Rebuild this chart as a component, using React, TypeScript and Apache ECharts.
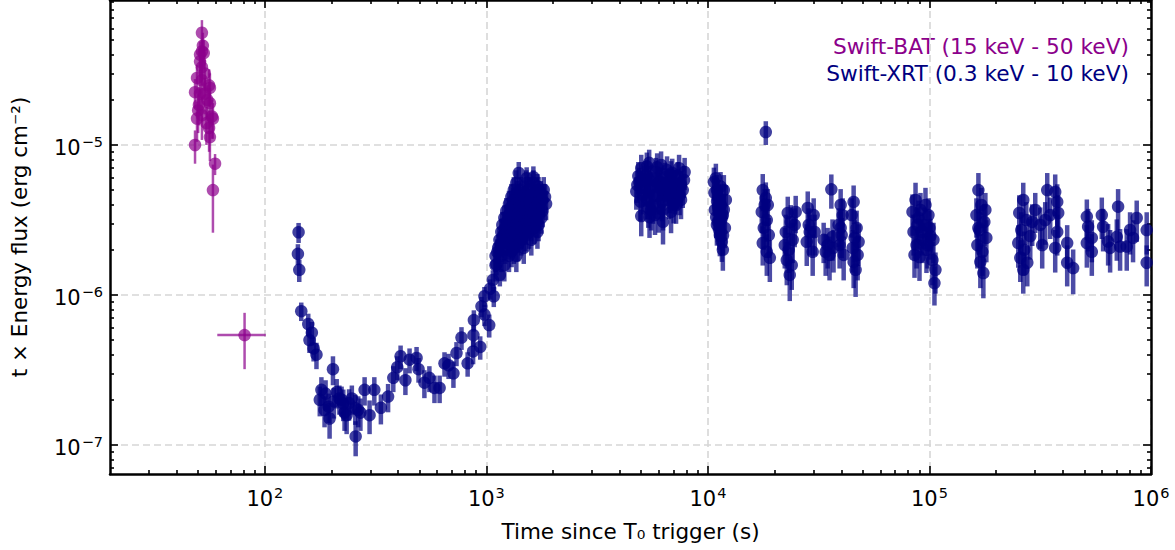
import React, { useEffect, useRef } from "react";
import * as echarts from "echarts";

// ---------- axis ticks ----------
const xMajorTicks = [100, 1000, 10000, 100000, 1000000];
const yMajorTicks = [1e-7, 1e-6, 1e-5];
const minorMultipliers = [2, 3, 4, 5, 6, 7, 8, 9];
const xDecades = [10, 100, 1000, 10000, 100000];
const yDecades = [1e-8, 1e-7, 1e-6, 1e-5];
const xMin = 20;
const xMax = 1000000;
const yMin = 6.4e-8;
const yMax = 9.26e-5;

// ---------- Swift-BAT: [time (s), t*flux, flux error, time error] ----------
const batData: number[][] = [
  [52, 5.6e-5, 1.2e-5, 0],
  [52.5, 4.6e-5, 1.0e-5, 0],
  [52, 4.2e-5, 0.9e-5, 0],
  [53, 4.1e-5, 0.9e-5, 0],
  [51, 4.0e-5, 0.9e-5, 0],
  [51, 3.6e-5, 0.8e-5, 0],
  [52, 3.3e-5, 0.8e-5, 0],
  [53.5, 3.0e-5, 0.7e-5, 0],
  [49.4, 2.8e-5, 0.6e-5, 0],
  [52, 2.7e-5, 0.7e-5, 0],
  [56, 2.5e-5, 0.7e-5, 0],
  [56.5, 2.4e-5, 0.6e-5, 0],
  [48.4, 2.25e-5, 0.5e-5, 0],
  [51, 2.2e-5, 0.6e-5, 0],
  [53.5, 2.2e-5, 0.6e-5, 0],
  [55, 2.0e-5, 0.5e-5, 0],
  [56.5, 1.9e-5, 0.5e-5, 0],
  [50.4, 1.85e-5, 0.5e-5, 0],
  [50, 1.7e-5, 0.5e-5, 0],
  [52, 1.58e-5, 0.5e-5, 0],
  [57.7, 1.55e-5, 0.45e-5, 0],
  [49.4, 1.5e-5, 0.45e-5, 0],
  [58.3, 1.5e-5, 0.4e-5, 0],
  [54.5, 1.4e-5, 0.4e-5, 0],
  [56, 1.3e-5, 0.4e-5, 0],
  [56.5, 1.13e-5, 0.35e-5, 0],
  [48.4, 1.0e-5, 0.25e-5, 0],
  [59.6, 7.5e-6, 1.2e-6, 0],
  [58.3, 5.0e-6, 2.4e-6, 0],
  [81, 5.4e-7, 2.2e-7, 20],
];

// ---------- Swift-XRT: [time (s), t*flux, flux error] ----------
const xrtSteep: number[][] = [
  [142, 2.62e-6, 0.4e-6],
  [141, 1.88e-6, 0.3e-6],
  [143, 1.47e-6, 0.25e-6],
  [146, 7.8e-7, 1.1e-7],
  [157, 6.4e-7, 1.1e-7],
  [163, 5.6e-7, 1.0e-7],
  [159, 5.0e-7, 0.9e-7],
  [166, 4.4e-7, 0.8e-7],
  [171, 4.0e-7, 0.8e-7],
  [203, 3.2e-7, 0.7e-7],
];

const xrtTrough: number[][] = [
  [180, 2.33e-7, 0.5e-7],
  [177, 2.0e-7, 0.45e-7],
  [186, 1.71e-7, 0.4e-7],
  [188, 2.2e-7, 0.5e-7],
  [194, 1.8e-7, 0.4e-7],
  [196, 1.5e-7, 0.4e-7],
  [205, 1.95e-7, 0.45e-7],
  [211, 2.25e-7, 0.5e-7],
  [217, 2.04e-7, 0.45e-7],
  [222, 2.0e-7, 0.45e-7],
  [226, 1.89e-7, 0.45e-7],
  [229, 1.64e-7, 0.4e-7],
  [234, 1.58e-7, 0.4e-7],
  [240, 1.9e-7, 0.45e-7],
  [247, 2.04e-7, 0.45e-7],
  [256, 1.76e-7, 0.4e-7],
  [257, 1.14e-7, 0.3e-7],
  [264, 1.71e-7, 0.4e-7],
  [270, 1.64e-7, 0.4e-7],
  [282, 2.33e-7, 0.5e-7],
  [297, 1.58e-7, 0.4e-7],
  [312, 2.33e-7, 0.5e-7],
  [334, 1.77e-7, 0.4e-7],
  [360, 2.1e-7, 0.45e-7],
  [380, 2.8e-7, 0.55e-7],
  [396, 3.3e-7, 0.6e-7],
  [410, 3.9e-7, 0.7e-7],
  [431, 2.7e-7, 0.55e-7],
  [450, 3.7e-7, 0.7e-7],
  [484, 3.8e-7, 0.7e-7],
  [494, 3.2e-7, 0.6e-7],
  [525, 2.6e-7, 0.55e-7],
  [553, 2.8e-7, 0.55e-7],
  [583, 2.4e-7, 0.5e-7],
  [615, 2.4e-7, 0.5e-7],
  [647, 3.5e-7, 0.65e-7],
  [675, 3.4e-7, 0.65e-7],
  [710, 3.0e-7, 0.6e-7],
  [733, 4.1e-7, 0.75e-7],
  [772, 5.2e-7, 0.9e-7],
  [823, 3.5e-7, 0.65e-7],
  [871, 4.2e-7, 0.75e-7],
  [874, 5.4e-7, 0.9e-7],
  [878, 6.8e-7, 1.1e-7],
  [938, 4.5e-7, 0.8e-7],
  [950, 8.4e-7, 1.3e-7],
  [980, 7.4e-7, 1.2e-7],
  [980, 9.8e-7, 1.5e-7],
  [1030, 6.3e-7, 1.1e-7],
  [1040, 1.1e-6, 0.17e-6],
  [1080, 9.8e-7, 1.5e-7],
  [1070, 1.26e-6, 0.2e-6],
  [1110, 1.6e-6, 0.25e-6],
  [1150, 1.36e-6, 0.22e-6],
];

const xrtRise: number[][] = [
  [1400, 6.5e-6, 1.2e-6], [1630, 6.1e-6, 1.1e-6], [1520, 6.0e-6, 1.1e-6],
  [1365, 5.58e-6, 1.2e-6], [1514, 5.58e-6, 1.2e-6], [1630, 5.58e-6, 1.2e-6], [1700, 5.3e-6, 1.1e-6],
  [1330, 5.01e-6, 1.1e-6], [1437, 5.01e-6, 1.1e-6], [1560, 5.01e-6, 1.1e-6], [1720, 5.01e-6, 1.1e-6], [1815, 5.01e-6, 1.1e-6],
  [1380, 4.75e-6, 1.0e-6], [1480, 4.8e-6, 1.0e-6], [1610, 4.7e-6, 1.0e-6], [1760, 4.75e-6, 1.0e-6],
  [1296, 4.5e-6, 1.0e-6], [1400, 4.5e-6, 1.0e-6], [1530, 4.5e-6, 1.0e-6], [1680, 4.5e-6, 1.0e-6], [1840, 4.5e-6, 1.0e-6],
  [1320, 4.25e-6, 0.95e-6], [1440, 4.3e-6, 0.95e-6], [1560, 4.2e-6, 0.95e-6], [1790, 4.3e-6, 0.95e-6],
  [1265, 4.05e-6, 0.9e-6], [1365, 4.05e-6, 0.9e-6], [1475, 4.05e-6, 0.9e-6], [1595, 4.05e-6, 0.9e-6], [1720, 4.05e-6, 0.9e-6], [1860, 4.05e-6, 0.9e-6],
  [1290, 3.85e-6, 0.85e-6], [1410, 3.8e-6, 0.85e-6], [1520, 3.85e-6, 0.85e-6], [1650, 3.8e-6, 0.85e-6],
  [1230, 3.63e-6, 0.8e-6], [1330, 3.63e-6, 0.8e-6], [1420, 3.63e-6, 0.8e-6], [1550, 3.63e-6, 0.8e-6], [1660, 3.63e-6, 0.8e-6], [1790, 3.63e-6, 0.8e-6],
  [1270, 3.45e-6, 0.75e-6], [1370, 3.4e-6, 0.75e-6], [1460, 3.45e-6, 0.75e-6], [1600, 3.4e-6, 0.75e-6], [1730, 3.45e-6, 0.75e-6],
  [1205, 3.26e-6, 0.7e-6], [1296, 3.26e-6, 0.7e-6], [1390, 3.26e-6, 0.7e-6], [1500, 3.26e-6, 0.7e-6], [1630, 3.26e-6, 0.7e-6], [1770, 3.26e-6, 0.7e-6],
  [1240, 3.1e-6, 0.68e-6], [1330, 3.05e-6, 0.68e-6], [1430, 3.1e-6, 0.68e-6], [1540, 3.05e-6, 0.68e-6], [1680, 3.1e-6, 0.68e-6],
  [1180, 2.93e-6, 0.65e-6], [1265, 2.93e-6, 0.65e-6], [1365, 2.93e-6, 0.65e-6], [1475, 2.93e-6, 0.65e-6], [1595, 2.93e-6, 0.65e-6], [1720, 2.93e-6, 0.65e-6],
  [1210, 2.78e-6, 0.6e-6], [1300, 2.75e-6, 0.6e-6], [1400, 2.8e-6, 0.6e-6], [1510, 2.75e-6, 0.6e-6], [1640, 2.78e-6, 0.6e-6],
  [1168, 2.63e-6, 0.6e-6], [1245, 2.63e-6, 0.6e-6], [1340, 2.63e-6, 0.6e-6], [1437, 2.63e-6, 0.6e-6], [1560, 2.63e-6, 0.6e-6], [1700, 2.63e-6, 0.6e-6],
  [1190, 2.47e-6, 0.55e-6], [1280, 2.5e-6, 0.55e-6], [1380, 2.45e-6, 0.55e-6], [1500, 2.5e-6, 0.55e-6],
  [1145, 2.33e-6, 0.5e-6], [1230, 2.33e-6, 0.5e-6], [1330, 2.33e-6, 0.5e-6], [1437, 2.33e-6, 0.5e-6], [1595, 2.33e-6, 0.5e-6],
  [1160, 2.18e-6, 0.48e-6], [1260, 2.2e-6, 0.48e-6], [1390, 2.15e-6, 0.48e-6],
  [1130, 2.06e-6, 0.45e-6], [1215, 2.06e-6, 0.45e-6], [1330, 2.06e-6, 0.45e-6], [1475, 2.06e-6, 0.45e-6],
  [1120, 1.93e-6, 0.42e-6], [1300, 1.95e-6, 0.42e-6],
  [1100, 1.82e-6, 0.4e-6], [1168, 1.82e-6, 0.4e-6], [1265, 1.82e-6, 0.4e-6], [1365, 1.82e-6, 0.4e-6],
  [1100, 1.58e-6, 0.35e-6], [1205, 1.58e-6, 0.35e-6],
];

const xrtPlateau: number[][] = [
  [4800, 5.41e-6, 1.3e-6], [4900, 5.66e-6, 1.4e-6], [5000, 7.0e-6, 1.6e-6], [5000, 3.36e-6, 0.9e-6],
  [5100, 4.64e-6, 1.2e-6], [5200, 5.17e-6, 1.3e-6], [5260, 6.3e-6, 1.5e-6], [5320, 4.3e-6, 1.1e-6],
  [5430, 7.6e-6, 1.7e-6], [5430, 5.84e-6, 1.4e-6], [5540, 5.17e-6, 1.3e-6], [5540, 3.69e-6, 1.0e-6],
  [5650, 3.98e-6, 1.0e-6], [5770, 3.41e-6, 0.9e-6], [5835, 6.6e-6, 1.6e-6], [5950, 5.58e-6, 1.4e-6],
  [6020, 4.64e-6, 1.2e-6], [6146, 7.36e-6, 1.7e-6], [6146, 5.66e-6, 1.4e-6], [6270, 3.69e-6, 1.0e-6],
  [6270, 3.07e-6, 0.9e-6], [6340, 4.86e-6, 1.2e-6], [6470, 5.58e-6, 1.4e-6], [6540, 6.8e-6, 1.6e-6],
  [6680, 4.3e-6, 1.1e-6], [6817, 6.3e-6, 1.5e-6], [6817, 3.58e-6, 1.0e-6], [6960, 5.0e-6, 1.2e-6],
  [7100, 4.64e-6, 1.2e-6], [7180, 3.98e-6, 1.0e-6], [7410, 7.0e-6, 1.6e-6], [7560, 5.41e-6, 1.3e-6],
  [7560, 4.3e-6, 1.1e-6], [7800, 5.84e-6, 1.4e-6],
  [4750, 4.9e-6, 1.2e-6], [4850, 6.2e-6, 1.5e-6], [4950, 4.2e-6, 1.1e-6], [5150, 5.9e-6, 1.4e-6],
  [5300, 7.2e-6, 1.7e-6], [5380, 3.8e-6, 1.0e-6], [5600, 6.0e-6, 1.4e-6], [5700, 4.6e-6, 1.2e-6],
  [5900, 7.1e-6, 1.7e-6], [6050, 5.2e-6, 1.3e-6], [6200, 4.2e-6, 1.1e-6], [6400, 6.1e-6, 1.5e-6],
  [6600, 5.2e-6, 1.3e-6], [6750, 4.7e-6, 1.2e-6], [6900, 6.5e-6, 1.6e-6], [7050, 5.5e-6, 1.3e-6],
  [7250, 4.9e-6, 1.2e-6], [7300, 6.2e-6, 1.5e-6], [7450, 4.6e-6, 1.2e-6], [7700, 5.0e-6, 1.2e-6],
  [7850, 6.6e-6, 1.6e-6], [6000, 3.5e-6, 0.9e-6], [5450, 3.3e-6, 0.9e-6], [7000, 4.0e-6, 1.0e-6],
];

const xrtDay: number[][] = [
  [10860, 6.0e-6, 1.5e-6], [10640, 5.66e-6, 1.4e-6], [10980, 5.0e-6, 1.3e-6], [11210, 4.43e-6, 1.1e-6],
  [11440, 3.98e-6, 1.0e-6], [10750, 3.69e-6, 1.0e-6], [11680, 3.41e-6, 0.9e-6], [11090, 3.07e-6, 0.8e-6],
  [11930, 2.8e-6, 0.75e-6], [11320, 2.51e-6, 0.7e-6], [11560, 2.26e-6, 0.6e-6], [11680, 2.0e-6, 0.55e-6],
  [12050, 4.3e-6, 1.1e-6], [11210, 3.58e-6, 0.95e-6], [10980, 2.93e-6, 0.8e-6], [11800, 5.0e-6, 1.3e-6],
  [10700, 4.8e-6, 1.2e-6], [11000, 4.2e-6, 1.1e-6], [11400, 5.3e-6, 1.3e-6], [11100, 3.9e-6, 1.0e-6],
  [11500, 3.2e-6, 0.85e-6], [11250, 2.7e-6, 0.7e-6], [11700, 2.5e-6, 0.65e-6], [10900, 3.3e-6, 0.9e-6],
  [11800, 3.7e-6, 1.0e-6],
  [18250, 1.22e-5, 0.22e-5],
  [17680, 5.0e-6, 1.4e-6], [18250, 4.43e-6, 1.2e-6], [18630, 3.98e-6, 1.1e-6], [17500, 3.58e-6, 1.0e-6],
  [18440, 3.16e-6, 0.9e-6], [17870, 2.8e-6, 0.8e-6], [18830, 2.51e-6, 0.75e-6], [17680, 2.22e-6, 0.65e-6],
  [18440, 1.94e-6, 0.6e-6], [19030, 1.77e-6, 0.55e-6], [18050, 3.98e-6, 1.1e-6],
  [22930, 3.52e-6, 1.0e-6], [23650, 3.07e-6, 0.9e-6], [22460, 2.63e-6, 0.8e-6], [24140, 2.33e-6, 0.7e-6],
  [23160, 2.0e-6, 0.6e-6], [24640, 2.93e-6, 0.85e-6], [22700, 1.71e-6, 0.55e-6], [23900, 1.58e-6, 0.5e-6],
  [23410, 1.36e-6, 0.45e-6], [24900, 3.58e-6, 1.0e-6], [22230, 2.15e-6, 0.65e-6],
  [28220, 3.8e-6, 1.1e-6], [30020, 3.41e-6, 1.0e-6], [28520, 2.93e-6, 0.85e-6], [30330, 2.63e-6, 0.8e-6],
  [27930, 2.26e-6, 0.7e-6], [29710, 1.94e-6, 0.6e-6], [28810, 2.63e-6, 0.8e-6],
  [33300, 2.33e-6, 0.7e-6], [34700, 2.15e-6, 0.65e-6], [36500, 2.44e-6, 0.75e-6], [34000, 1.94e-6, 0.6e-6],
  [35400, 1.85e-6, 0.6e-6], [36900, 2.06e-6, 0.65e-6], [36060, 5.06e-6, 1.3e-6],
  [39730, 3.98e-6, 1.1e-6], [40570, 3.41e-6, 1.0e-6], [38900, 2.93e-6, 0.85e-6], [40150, 2.51e-6, 0.75e-6],
  [39300, 2.15e-6, 0.65e-6], [41000, 1.85e-6, 0.6e-6], [39730, 2.8e-6, 0.8e-6],
  [45470, 4.17e-6, 1.2e-6], [44540, 3.41e-6, 1.0e-6], [46910, 2.8e-6, 0.85e-6], [45950, 2.4e-6, 0.75e-6],
  [45000, 2.06e-6, 0.65e-6], [47400, 1.85e-6, 0.6e-6], [45470, 1.66e-6, 0.55e-6], [46420, 1.47e-6, 0.5e-6],
  [47890, 2.26e-6, 0.7e-6],
];

const xrtLate: number[][] = [
  [86520, 4.3e-6, 1.3e-6], [91100, 3.69e-6, 1.1e-6], [89230, 3.26e-6, 1.0e-6], [94950, 2.93e-6, 0.9e-6],
  [84720, 2.63e-6, 0.8e-6], [98970, 3.41e-6, 1.0e-6], [93000, 2.33e-6, 0.7e-6], [87430, 2.15e-6, 0.65e-6],
  [101040, 2.47e-6, 0.75e-6], [96940, 2.0e-6, 0.6e-6], [104240, 2.33e-6, 0.7e-6], [90160, 1.79e-6, 0.55e-6],
  [103160, 1.71e-6, 0.55e-6], [106420, 1.47e-6, 0.45e-6], [105320, 1.2e-6, 0.35e-6], [88350, 2.93e-6, 0.9e-6],
  [95940, 3.98e-6, 1.2e-6], [83840, 3.58e-6, 1.1e-6], [100000, 2.8e-6, 0.85e-6], [92050, 2.63e-6, 0.8e-6],
  [97950, 2.15e-6, 0.65e-6], [85610, 1.85e-6, 0.55e-6],
  [166300, 5.0e-6, 1.5e-6], [171500, 3.98e-6, 1.2e-6], [162900, 3.41e-6, 1.0e-6], [176900, 3.07e-6, 0.95e-6],
  [168000, 2.71e-6, 0.85e-6], [180600, 2.4e-6, 0.75e-6], [164500, 2.15e-6, 0.65e-6], [173300, 1.94e-6, 0.6e-6],
  [169700, 1.66e-6, 0.55e-6], [175100, 1.4e-6, 0.45e-6], [178800, 3.69e-6, 1.1e-6], [166300, 2.8e-6, 0.85e-6],
  [265100, 4.3e-6, 1.3e-6], [254300, 3.52e-6, 1.1e-6], [273500, 3.16e-6, 1.0e-6], [259700, 2.71e-6, 0.85e-6],
  [285100, 2.47e-6, 0.75e-6], [251700, 2.22e-6, 0.7e-6], [267900, 2.0e-6, 0.65e-6], [257000, 1.77e-6, 0.55e-6],
  [276400, 1.64e-6, 0.5e-6], [265100, 1.47e-6, 0.45e-6], [291000, 3.07e-6, 0.95e-6], [300300, 3.69e-6, 1.1e-6],
  [340100, 5.0e-6, 1.5e-6], [369500, 4.86e-6, 1.5e-6], [377300, 4.17e-6, 1.3e-6], [381200, 3.52e-6, 1.1e-6],
  [377300, 2.63e-6, 0.8e-6], [369500, 2.06e-6, 0.65e-6], [418500, 2.22e-6, 0.7e-6], [418500, 1.64e-6, 0.5e-6],
  [445300, 1.51e-6, 0.5e-6], [316200, 2.93e-6, 0.9e-6], [322800, 2.15e-6, 0.65e-6], [333000, 3.16e-6, 1.0e-6],
  [350800, 3.41e-6, 1.05e-6],
  [513300, 3.33e-6, 1.0e-6], [520200, 2.85e-6, 0.9e-6], [513300, 2.22e-6, 0.7e-6], [540600, 1.94e-6, 0.6e-6],
  [540600, 2.4e-6, 0.75e-6], [599700, 3.41e-6, 1.05e-6], [607900, 2.85e-6, 0.9e-6], [640300, 2.27e-6, 0.7e-6],
  [653800, 2.06e-6, 0.65e-6], [710400, 3.88e-6, 1.2e-6], [700800, 2.44e-6, 0.75e-6], [725300, 2.1e-6, 0.65e-6],
  [804400, 2.71e-6, 0.85e-6], [777200, 2.1e-6, 0.65e-6], [862000, 3.26e-6, 1.0e-6], [956300, 2.71e-6, 0.85e-6],
  [956300, 1.64e-6, 0.5e-6], [829800, 2.4e-6, 0.75e-6],
];

const batLabel = "Swift-BAT (15 keV - 50 keV)";
const xrtLabel = "Swift-XRT (0.3 keV - 10 keV)";
const batColor = "#8b008b";
const xrtColor = "#000080";
const FONT = "DejaVu Sans";

function minorTicks(decades: number[], lo: number, hi: number): number[] {
  const out: number[] = [];
  decades.forEach((d) => {
    minorMultipliers.forEach((m) => {
      const v = Number((m * d).toPrecision(6));
      if (v > lo && v < hi) out.push(v);
    });
  });
  return out;
}

const xMinorTicks = minorTicks(xDecades, xMin, xMax);
const yMinorTicks = minorTicks(yDecades, yMin, yMax);

function powLabel(value: number): string {
  const e = Math.round(Math.log10(value));
  const s = e < 0 ? "\u2212" + String(-e) : String(e);
  return "{b|10}{s|" + s + "}";
}

const labelRich = {
  b: { fontSize: 21, fontFamily: FONT, color: "#000", verticalAlign: "bottom", padding: [6, 0, 0, 0] },
  s: { fontSize: 14.5, fontFamily: FONT, color: "#000", verticalAlign: "bottom", padding: [0, 0, 9, 1] },
};

const spine = { show: true, onZero: false, lineStyle: { color: "#000", width: 2.5 } };
const noLine = { show: false, onZero: false };
const tickStyle = { color: "#000", width: 1.6 };
const gridLine = { show: true, lineStyle: { color: "#d6d6d6", width: 1.6, type: [7, 4] } };

function errorBarSeries(data: number[][], color: string, width: number, alpha: number) {
  return {
    type: "custom",
    xAxisIndex: 0,
    yAxisIndex: 0,
    silent: true,
    clip: true,
    z: 2,
    encode: { x: 0, y: 1 },
    data: data.map((d) => [d[0], d[1], d[2], d[3] || 0]),
    renderItem: (_params: any, api: any) => {
      const t = api.value(0);
      const f = api.value(1);
      const e = api.value(2);
      const te = api.value(3);
      const top = api.coord([t, f + e]);
      const bot = api.coord([t, f - e]);
      const children: any[] = [
        {
          type: "line",
          shape: { x1: top[0], y1: top[1], x2: bot[0], y2: bot[1] },
          style: { stroke: color, lineWidth: width, opacity: alpha },
        },
      ];
      if (te > 0) {
        const l = api.coord([t - te, f]);
        const r = api.coord([t + te, f]);
        children.push({
          type: "line",
          shape: { x1: l[0], y1: l[1], x2: r[0], y2: r[1] },
          style: { stroke: color, lineWidth: width, opacity: alpha },
        });
      }
      return { type: "group", children };
    },
  };
}

function pointSeries(data: number[][], color: string, alpha: number, name: string) {
  return {
    type: "scatter",
    name,
    xAxisIndex: 0,
    yAxisIndex: 0,
    silent: true,
    z: 3,
    symbol: "circle",
    symbolSize: 12.5,
    itemStyle: { color, opacity: alpha },
    data: data.map((d) => [d[0], d[1]]),
  };
}

export default function App() {
  const ref = useRef<HTMLDivElement>(null);

  useEffect(() => {
    if (!ref.current) return;
    const chart = echarts.init(ref.current, null, { renderer: "svg" });
    const xrtAll = [...xrtSteep, ...xrtTrough, ...xrtRise, ...xrtPlateau, ...xrtDay, ...xrtLate];

    const xBase = { type: "log", logBase: 10, min: xMin, max: xMax, gridIndex: 0 };
    const yBase = { type: "log", logBase: 10, min: yMin, max: yMax, gridIndex: 0 };

    const option: any = {
      animation: false,
      backgroundColor: "#ffffff",
      grid: { left: 108, right: 24, top: 0, bottom: 76, containLabel: false },
      xAxis: [
        {
          ...xBase,
          position: "bottom",
          axisLine: spine,
          axisTick: { show: true, inside: true, length: 8, lineStyle: tickStyle, customValues: xMajorTicks },
          minorTick: { show: false },
          axisLabel: { show: true, customValues: xMajorTicks, formatter: powLabel, rich: labelRich, margin: 8 },
          splitLine: gridLine,
          name: "Time since T\u2080 trigger (s)",
          nameLocation: "middle",
          nameGap: 46,
          nameTextStyle: { fontSize: 21.5, fontFamily: FONT, color: "#000" },
        },
        {
          ...xBase,
          position: "bottom",
          axisLine: noLine,
          axisTick: { show: true, inside: true, length: 4, lineStyle: tickStyle, customValues: xMinorTicks },
          axisLabel: { show: false },
          splitLine: { show: false },
        },
        {
          ...xBase,
          position: "top",
          axisLine: spine,
          axisTick: { show: true, inside: true, length: 8, lineStyle: tickStyle, customValues: xMajorTicks },
          axisLabel: { show: false },
          splitLine: { show: false },
        },
        {
          ...xBase,
          position: "top",
          axisLine: noLine,
          axisTick: { show: true, inside: true, length: 4, lineStyle: tickStyle, customValues: xMinorTicks },
          axisLabel: { show: false },
          splitLine: { show: false },
        },
      ],
      yAxis: [
        {
          ...yBase,
          position: "left",
          axisLine: spine,
          axisTick: { show: true, inside: true, length: 8, lineStyle: tickStyle, customValues: yMajorTicks },
          minorTick: { show: false },
          axisLabel: { show: true, customValues: yMajorTicks, formatter: powLabel, rich: labelRich, margin: 7 },
          splitLine: gridLine,
          name: "t \u00d7 Energy flux (erg cm\u207b\u00b2)",
          nameLocation: "middle",
          nameGap: 80,
          nameTextStyle: { fontSize: 21.5, fontFamily: FONT, color: "#000" },
        },
        {
          ...yBase,
          position: "left",
          axisLine: noLine,
          axisTick: { show: true, inside: true, length: 4, lineStyle: tickStyle, customValues: yMinorTicks },
          axisLabel: { show: false },
          splitLine: { show: false },
        },
        {
          ...yBase,
          position: "right",
          axisLine: spine,
          axisTick: { show: true, inside: true, length: 8, lineStyle: tickStyle, customValues: yMajorTicks },
          axisLabel: { show: false },
          splitLine: { show: false },
        },
        {
          ...yBase,
          position: "right",
          axisLine: noLine,
          axisTick: { show: true, inside: true, length: 4, lineStyle: tickStyle, customValues: yMinorTicks },
          axisLabel: { show: false },
          splitLine: { show: false },
        },
      ],
      series: [
        errorBarSeries(batData, batColor, 2.5, 0.7),
        pointSeries(batData, batColor, 0.7, batLabel),
        errorBarSeries(xrtAll, xrtColor, 4.5, 0.7),
        pointSeries(xrtAll, xrtColor, 0.75, xrtLabel),
      ],
      graphic: [
        {
          type: "text",
          right: 46,
          top: 35,
          style: { text: batLabel, fill: batColor, font: '21.7px "DejaVu Sans"', textAlign: "right" },
        },
        {
          type: "text",
          right: 46,
          top: 62,
          style: { text: xrtLabel, fill: xrtColor, font: '21.7px "DejaVu Sans"', textAlign: "right" },
        },
      ],
    };
    chart.setOption(option);
    return () => chart.dispose();
  }, []);

  return (
    <div
      ref={ref}
      style={{ position: "fixed", left: 0, top: 0, width: 1175, height: 550, background: "#fff" }}
    />
  );
}
